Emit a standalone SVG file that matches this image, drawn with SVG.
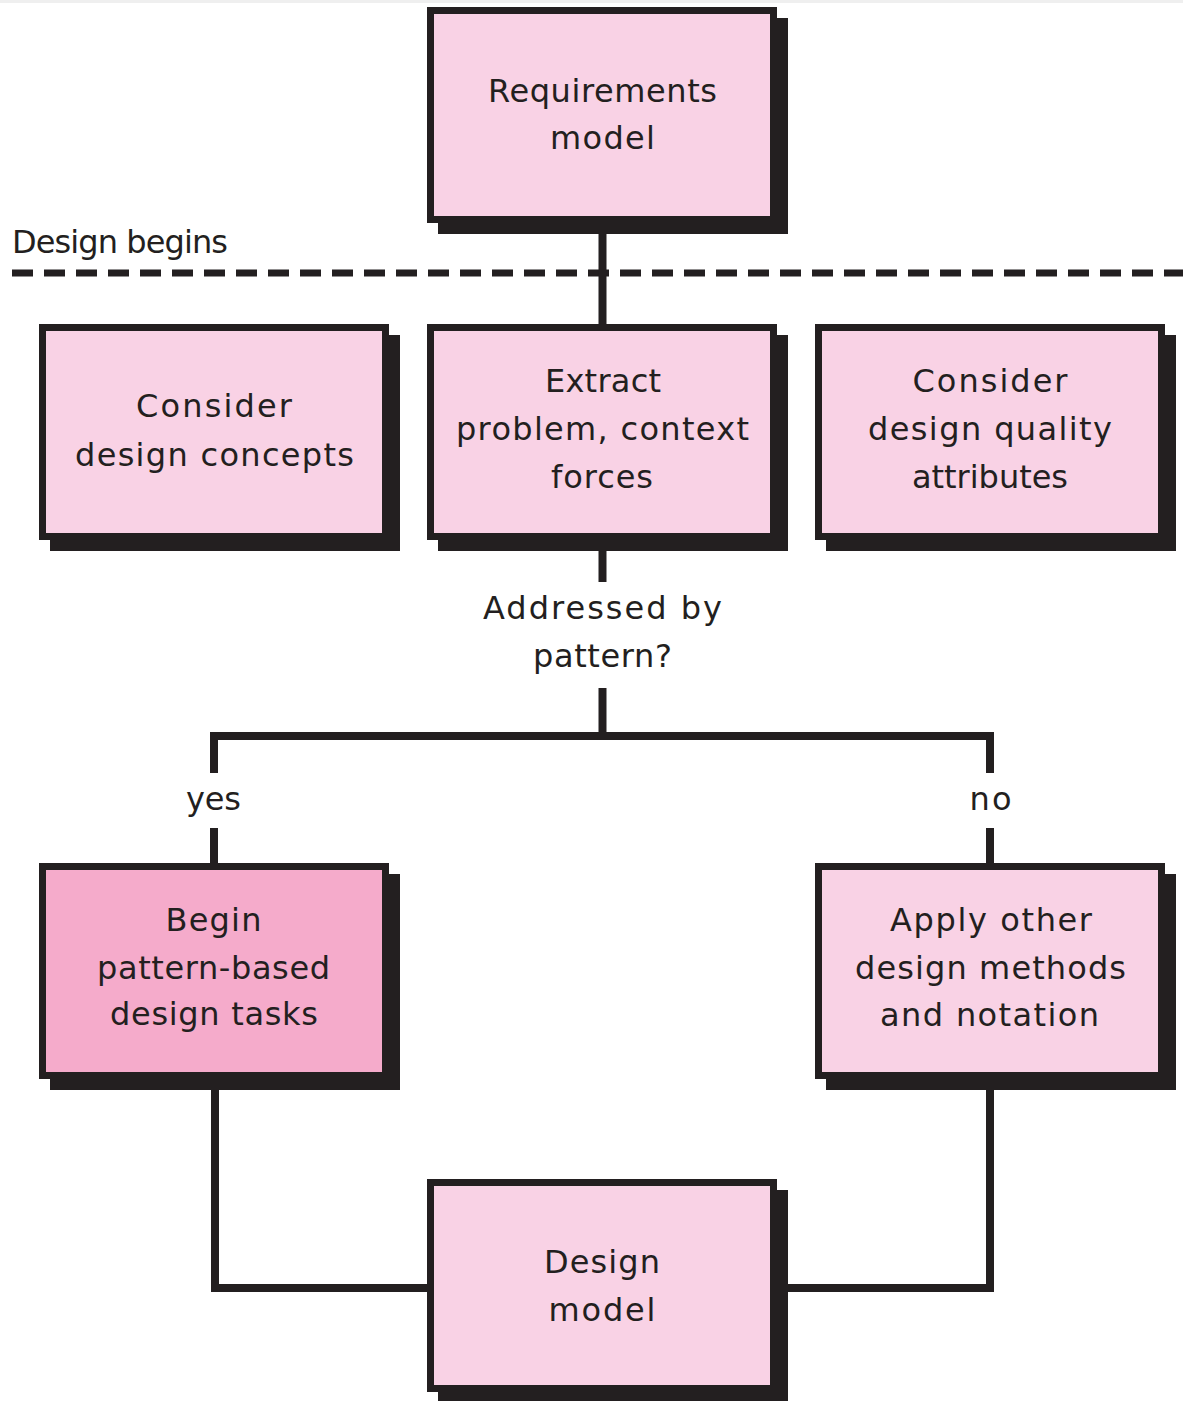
<svg xmlns="http://www.w3.org/2000/svg" width="1183" height="1401" viewBox="0 0 1183 1401">
<style>
.shadow{fill:#231f20}
.box{fill:#f9d2e5;stroke:#231f20;stroke-width:7}
.box.dark{fill:#f5abcb}
.t{font-family:"DejaVu Sans","Liberation Sans",Arial,sans-serif;font-size:32px;fill:#231f20;text-anchor:middle}
.conn{fill:none;stroke:#231f20;stroke-width:8;stroke-linejoin:miter;stroke-linecap:butt}
</style>
<rect x="0" y="0" width="1183" height="1401" fill="#ffffff"/>
<rect x="0" y="0" width="1183" height="3" fill="#efefef"/>
<g id="design-begins">
<line x1="12" y1="273" x2="1183" y2="273" stroke="#231f20" stroke-width="7" stroke-dasharray="21 11"/>
<text class="t" x="12" y="253" style="text-anchor:start" textLength="216">Design begins</text>
</g>
<g id="connectors">
<path class="conn" d="M602.5,223 V324"/>
<path class="conn" d="M602.5,540 V582"/>
<path class="conn" d="M602.5,688 V736"/>
<path class="conn" d="M214,773 V736 H990 V773"/>
<path class="conn" d="M214,828 V863"/>
<path class="conn" d="M990,828 V863"/>
<path class="conn" d="M215,1078 V1288 H427"/>
<path class="conn" d="M990,1078 V1288 H777"/>
<text class="t" x="602.5" y="619" textLength="239">Addressed by</text>
<text class="t" x="602.5" y="667" textLength="139">pattern?</text>
<text class="t" x="213.5" y="810" textLength="55">yes</text>
<text class="t" x="990.5" y="810" textLength="42">no</text>
</g>
<g id="requirements-model">
<rect class="shadow" x="438" y="18" width="350" height="216"/>
<rect class="box" x="430.5" y="10.5" width="343" height="209"/>
<text class="t" x="602.5" y="102" textLength="229">Requirements</text>
<text class="t" x="602.5" y="149" textLength="105">model</text>
</g>
<g id="consider-design-concepts">
<rect class="shadow" x="50" y="335" width="350" height="216"/>
<rect class="box" x="42.5" y="327.5" width="343" height="209"/>
<text class="t" x="214" y="417" textLength="156">Consider</text>
<text class="t" x="214.5" y="466" textLength="279">design concepts</text>
</g>
<g id="extract">
<rect class="shadow" x="438" y="335" width="350" height="216"/>
<rect class="box" x="430.5" y="327.5" width="343" height="209"/>
<text class="t" x="603" y="392" textLength="116">Extract</text>
<text class="t" x="602.5" y="440" textLength="293">problem, context</text>
<text class="t" x="602" y="488" textLength="102">forces</text>
</g>
<g id="consider-quality">
<rect class="shadow" x="826" y="335" width="350" height="216"/>
<rect class="box" x="818.5" y="327.5" width="343" height="209"/>
<text class="t" x="990" y="392" textLength="155">Consider</text>
<text class="t" x="990" y="440" textLength="244">design quality</text>
<text class="t" x="990" y="488" textLength="156">attributes</text>
</g>
<g id="begin-pattern">
<rect class="shadow" x="50" y="874" width="350" height="216"/>
<rect class="box dark" x="42.5" y="866.5" width="343" height="209"/>
<text class="t" x="213.5" y="931" textLength="96">Begin</text>
<text class="t" x="213.5" y="979" textLength="233">pattern-based</text>
<text class="t" x="214" y="1025" textLength="208">design tasks</text>
</g>
<g id="apply-other">
<rect class="shadow" x="826" y="874" width="350" height="216"/>
<rect class="box" x="818.5" y="866.5" width="343" height="209"/>
<text class="t" x="991" y="931" textLength="202">Apply other</text>
<text class="t" x="990.5" y="979" textLength="271">design methods</text>
<text class="t" x="989.5" y="1026" textLength="219">and notation</text>
</g>
<g id="design-model">
<rect class="shadow" x="438" y="1190" width="350" height="213"/>
<rect class="box" x="430.5" y="1182.5" width="343" height="206"/>
<text class="t" x="602" y="1273" textLength="116">Design</text>
<text class="t" x="602" y="1321" textLength="107">model</text>
</g>
</svg>
